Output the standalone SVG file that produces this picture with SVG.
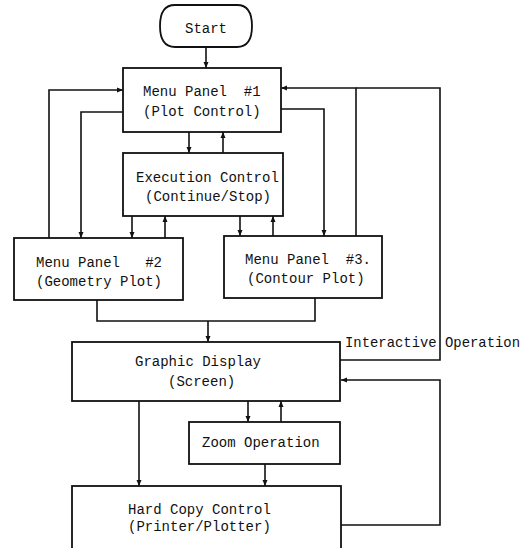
<svg xmlns="http://www.w3.org/2000/svg" width="526" height="548" viewBox="0 0 526 548">
<style>
.box{fill:#fff;stroke:#111;stroke-width:1.8}
.ln{fill:none;stroke:#111;stroke-width:1.6}
.t{font-family:"Liberation Mono","DejaVu Sans Mono",monospace;font-size:14px;fill:#111;white-space:pre}
</style>
<defs>
<marker id="ah" markerUnits="userSpaceOnUse" markerWidth="6" markerHeight="6" refX="6" refY="3" orient="auto">
<path d="M0,0.5 L6,3 L0,5.5 Z" fill="#111"/>
</marker>
</defs>
<rect width="526" height="548" fill="#fff"/>
<g id="connectors">
<path class="ln" d="M206,47 V68" marker-end="url(#ah)"/>
<path class="ln" d="M49,238 V90 H123" marker-end="url(#ah)"/>
<path class="ln" d="M123,112 H81 V238" marker-end="url(#ah)"/>
<path class="ln" d="M189,132 V153" marker-end="url(#ah)"/>
<path class="ln" d="M223,153 V132" marker-end="url(#ah)"/>
<path class="ln" d="M132,216 V238" marker-end="url(#ah)"/>
<path class="ln" d="M165,238 V216" marker-end="url(#ah)"/>
<path class="ln" d="M240,216 V236" marker-end="url(#ah)"/>
<path class="ln" d="M273,236 V216" marker-end="url(#ah)"/>
<path class="ln" d="M281,109 H324 V236" marker-end="url(#ah)"/>
<path class="ln" d="M356,236 V88 H281" marker-end="url(#ah)"/>
<path class="ln" d="M340,360 H440 V88 H356"/>
<path class="ln" d="M97,300 V321 H315 V298"/>
<path class="ln" d="M208,321 V342" marker-end="url(#ah)"/>
<path class="ln" d="M248,401 V422" marker-end="url(#ah)"/>
<path class="ln" d="M281,422 V401" marker-end="url(#ah)"/>
<path class="ln" d="M265,464 V486" marker-end="url(#ah)"/>
<path class="ln" d="M139,401 V486" marker-end="url(#ah)"/>
<path class="ln" d="M341,525 H440 V380 H341" marker-end="url(#ah)"/>
</g>
<g id="start">
<path class="box" d="M175,5 H237 Q252,5 252,26 Q252,47 237,47 H175 Q160,47 160,26 Q160,5 175,5 Z"/>
<text class="t" x="185" y="33">Start</text>
</g>
<g id="menu1">
<rect class="box" x="123" y="68" width="158" height="64"/>
<text class="t" x="143" y="96">Menu Panel  #1</text>
<text class="t" x="143" y="116">(Plot Control)</text>
</g>
<g id="exec">
<rect class="box" x="123" y="153" width="160" height="63"/>
<text class="t" x="136" y="182">Execution Control</text>
<text class="t" x="145" y="201">(Continue/Stop)</text>
</g>
<g id="menu2">
<rect class="box" x="14" y="238" width="169" height="62"/>
<text class="t" x="36" y="267">Menu Panel   #2</text>
<text class="t" x="36" y="286">(Geometry Plot)</text>
</g>
<g id="menu3">
<rect class="box" x="224" y="236" width="158" height="62"/>
<text class="t" x="245" y="264">Menu Panel  #3.</text>
<text class="t" x="247" y="283">(Contour Plot)</text>
</g>
<g id="label-interactive">
<text class="t" x="345" y="347" style="font-size:15px" textLength="175" lengthAdjust="spacingAndGlyphs">Interactive Operation</text>
</g>
<g id="graphic">
<rect class="box" x="72" y="342" width="268" height="59"/>
<text class="t" x="135" y="366">Graphic Display</text>
<text class="t" x="168" y="386">(Screen)</text>
</g>
<g id="zoom">
<rect class="box" x="189" y="422" width="151" height="42"/>
<text class="t" x="202" y="447">Zoom Operation</text>
</g>
<g id="hardcopy">
<rect class="box" x="72" y="486" width="269" height="70"/>
<text class="t" x="128" y="514">Hard Copy Control</text>
<text class="t" x="128" y="531">(Printer/Plotter)</text>
</g>
</svg>
